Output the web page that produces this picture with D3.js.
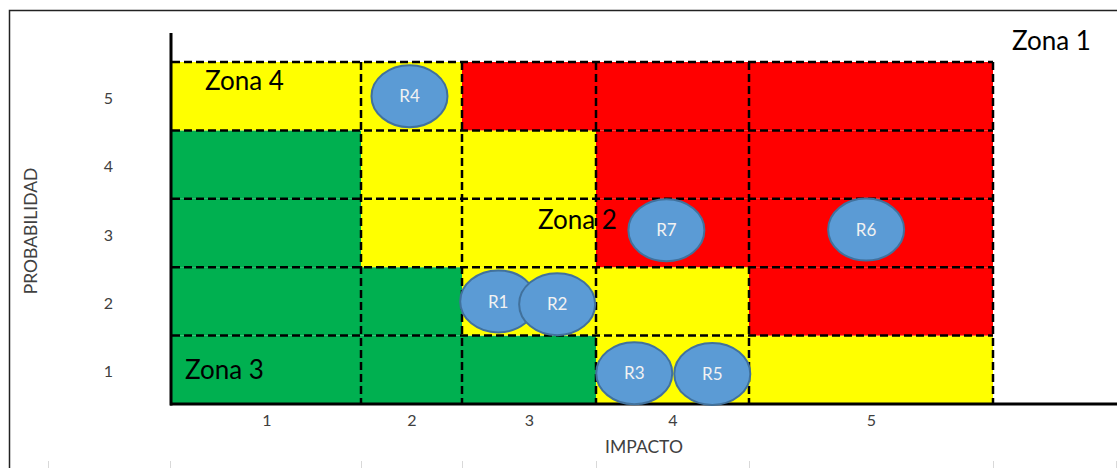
<!DOCTYPE html>
<html>
<head>
<meta charset="utf-8">
<script src="https://cdn.jsdelivr.net/npm/d3@7"></script>
<style>
  html, body { margin: 0; padding: 0; background: #fff; }
  svg { display: block; }
  text { font-family: Lato, "Open Sans", sans-serif; }
</style>
</head>
<body>
<svg id="chart" width="1117" height="468"></svg>
<script>
// Risk matrix: impact (x) by probability (y)
const impactLevels = [1, 2, 3, 4, 5];
const probabilityLevels = [1, 2, 3, 4, 5];

// Cell level per probability row (1..5), per impact column (1..5)
const cellLevels = [
  ["verde", "verde", "verde", "amarillo", "amarillo"],      // P=1
  ["verde", "verde", "amarillo", "amarillo", "rojo"],       // P=2
  ["verde", "amarillo", "amarillo", "rojo", "rojo"],        // P=3
  ["verde", "amarillo", "amarillo", "rojo", "rojo"],        // P=4
  ["amarillo", "amarillo", "rojo", "rojo", "rojo"]          // P=5
];

// Identified risks
const riskNames = ["R1", "R2", "R3", "R4", "R5", "R6", "R7"];
const riskImpact = [2.77, 3.21, 3.75, 1.98, 4.26, 4.98, 3.96];
const riskProbability = [2.0, 1.96, 0.95, 5.0, 0.94, 3.05, 3.04];

const zoneNames = ["Zona 1", "Zona 2", "Zona 3", "Zona 4"];
const axisTitles = { x: "IMPACTO", y: "PROBABILIDAD" };

// ---- layout ----
const svg = d3.select("#chart");
const colEdges = [172, 361, 462, 596, 749, 993];   // unequal column widths
const gridTop = 62, gridBottom = 404;

const x = d3.scaleLinear()
  .domain([0.5, 1.5, 2.5, 3.5, 4.5, 5.5])
  .range(colEdges);
const y = d3.scaleLinear()
  .domain([0.5, 5.5])
  .range([gridBottom, gridTop]);

const levelColor = { verde: "#00B050", amarillo: "#FFFF00", rojo: "#FF0000" };

// outer frame (top and left edges visible)
svg.append("path")
  .attr("d", "M9.5,468 V10.5 H1117")
  .attr("fill", "none").attr("stroke", "#222").attr("stroke-width", 1.5);

// faint spreadsheet gridline stubs along the bottom
const stubXs = [48, 170].concat(colEdges.slice(1), [1116]);
svg.append("g").selectAll("line").data(stubXs).join("line")
  .attr("x1", d => d + 0.5).attr("x2", d => d + 0.5)
  .attr("y1", 461).attr("y2", 468)
  .attr("stroke", "#d9d9d9").attr("stroke-width", 1);

// cells
const cells = [];
probabilityLevels.forEach((p, i) => impactLevels.forEach((im, j) => {
  cells.push({ p, im, level: cellLevels[i][j] });
}));
svg.append("g").selectAll("rect").data(cells).join("rect")
  .attr("x", d => x(d.im - 0.5))
  .attr("y", d => y(d.p + 0.5))
  .attr("width", d => x(d.im + 0.5) - x(d.im - 0.5))
  .attr("height", d => y(d.p - 0.5) - y(d.p + 0.5))
  .attr("fill", d => levelColor[d.level]);

// dashed cell borders
const grid = svg.append("g")
  .attr("stroke", "#000").attr("stroke-width", 2.5)
  .attr("stroke-dasharray", "8,4").attr("fill", "none");
grid.selectAll("line.h").data(probabilityLevels).join("line")
  .attr("class", "h")
  .attr("x1", x(0.5)).attr("x2", x(5.5))
  .attr("y1", d => y(d + 0.5)).attr("y2", d => y(d + 0.5));
grid.selectAll("line.v").data(impactLevels).join("line")
  .attr("class", "v")
  .attr("x1", d => x(d + 0.5)).attr("x2", d => x(d + 0.5))
  .attr("y1", y(5.5)).attr("y2", y(0.5));

// axis lines
svg.append("line")
  .attr("x1", 171).attr("x2", 171).attr("y1", 33).attr("y2", gridBottom + 1.5)
  .attr("stroke", "#000").attr("stroke-width", 3);
svg.append("line")
  .attr("x1", 170).attr("x2", 1117).attr("y1", gridBottom).attr("y2", gridBottom)
  .attr("stroke", "#000").attr("stroke-width", 3);

// tick labels
const yAxis = svg.append("g")
  .attr("transform", "translate(171,2)")
  .call(d3.axisLeft(y).tickValues(probabilityLevels).tickFormat(d3.format("d"))
    .tickSize(0).tickPadding(58));
const xAxis = svg.append("g")
  .attr("transform", `translate(0,${gridBottom})`)
  .call(d3.axisBottom(x).tickValues(impactLevels).tickFormat(d3.format("d"))
    .tickSize(0).tickPadding(11));
[xAxis, yAxis].forEach(g => {
  g.select(".domain").remove();
  g.selectAll("text")
    .attr("font-family", "Lato, sans-serif")
    .attr("font-size", 16)
    .attr("fill", "#404040");
});

// axis titles
svg.append("text")
  .attr("x", 644).attr("y", 453)
  .attr("text-anchor", "middle")
  .attr("font-size", 17.5).attr("fill", "#404040")
  .text(axisTitles.x);
svg.append("text")
  .attr("transform", "translate(37,231) rotate(-90)")
  .attr("text-anchor", "middle")
  .attr("font-size", 17.5).attr("fill", "#404040")
  .text(axisTitles.y);

// zone labels
const zonePos = [[1012, 50], [538, 229], [185, 379], [205, 90]];
svg.append("g").selectAll("text").data(zoneNames).join("text")
  .attr("x", (d, i) => zonePos[i][0])
  .attr("y", (d, i) => zonePos[i][1])
  .attr("font-size", 26).attr("fill", "#000")
  .text(d => d);

// risk markers
const risks = riskNames.map((name, i) => ({ name, im: riskImpact[i], p: riskProbability[i] }));
const rg = svg.append("g").selectAll("g").data(risks).join("g")
  .attr("transform", d => `translate(${x(d.im)},${y(d.p)})`);
rg.append("ellipse")
  .attr("rx", 38).attr("ry", 31)
  .attr("fill", "#5B9BD5").attr("stroke", "#41719C").attr("stroke-width", 2);
rg.append("text")
  .attr("text-anchor", "middle").attr("dy", "0.36em")
  .attr("font-size", 17).attr("fill", "#f2f2f2")
  .text(d => d.name);
</script>
</body>
</html>
